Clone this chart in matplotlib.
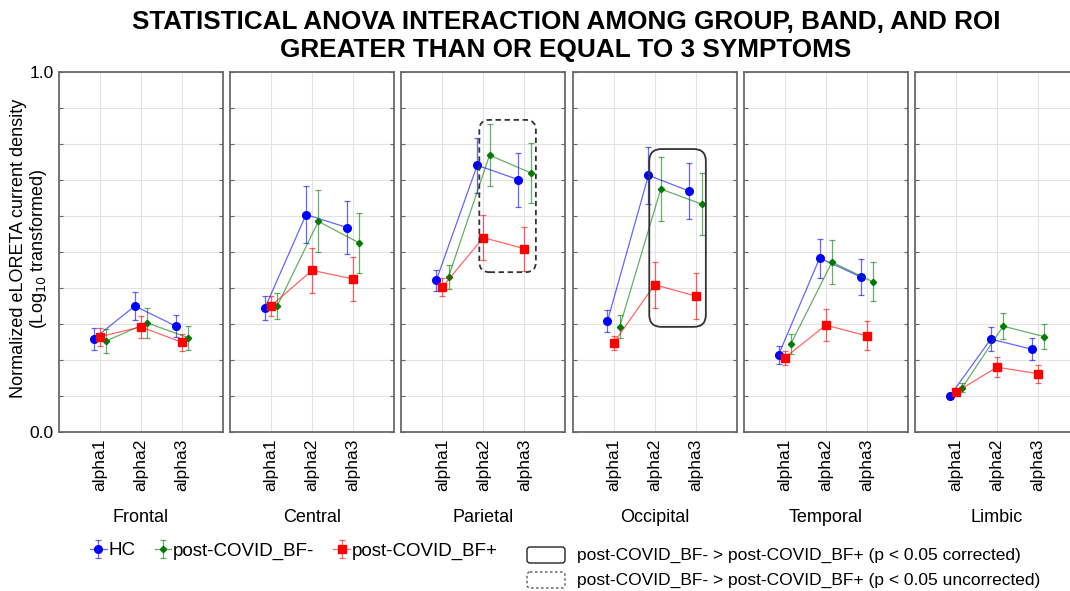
import matplotlib
matplotlib.use('Agg')
import matplotlib.pyplot as plt
from matplotlib.colors import to_rgba
from matplotlib.patches import FancyBboxPatch

plt.rcParams['font.family'] = ['Liberation Sans', 'DejaVu Sans']

regions = ['Frontal', 'Central', 'Parietal', 'Occipital', 'Temporal', 'Limbic']
bands = ['alpha1', 'alpha2', 'alpha3']

# means per region (alpha1, alpha2, alpha3)
hc_mean = [[0.259, 0.350, 0.294], [0.345, 0.604, 0.568], [0.421, 0.741, 0.701],
           [0.308, 0.713, 0.669], [0.215, 0.483, 0.431], [0.100, 0.258, 0.230]]
hc_err = [[0.030, 0.038, 0.030], [0.033, 0.078, 0.073], [0.030, 0.077, 0.075],
          [0.030, 0.080, 0.078], [0.025, 0.054, 0.050], [0.008, 0.033, 0.030]]
bfneg_mean = [[0.253, 0.303, 0.262], [0.351, 0.585, 0.525], [0.431, 0.769, 0.720],
              [0.293, 0.675, 0.633], [0.245, 0.472, 0.417], [0.123, 0.294, 0.265]]
bfneg_err = [[0.033, 0.042, 0.033], [0.036, 0.086, 0.082], [0.033, 0.087, 0.083],
             [0.033, 0.089, 0.087], [0.028, 0.060, 0.054], [0.012, 0.036, 0.034]]
bfpos_mean = [[0.265, 0.292, 0.249], [0.351, 0.449, 0.425], [0.403, 0.540, 0.509],
              [0.247, 0.409, 0.378], [0.206, 0.297, 0.267], [0.111, 0.180, 0.162]]
bfpos_err = [[0.025, 0.030, 0.023], [0.028, 0.063, 0.060], [0.024, 0.063, 0.061],
             [0.020, 0.064, 0.063], [0.020, 0.044, 0.040], [0.008, 0.027, 0.025]]

series = [
    ('HC', hc_mean, hc_err, '#0000ff', 'o', 5.5, -0.15),
    ('post-COVID_BF-', bfneg_mean, bfneg_err, '#007a00', 'D', 3.2, 0.15),
    ('post-COVID_BF+', bfpos_mean, bfpos_err, '#ff0000', 's', 5.5, 0.0),
]

W, H = 1070, 591
fig = plt.figure(figsize=(W / 100, H / 100), dpi=100)

handles = []
for i, region in enumerate(regions):
    left = 59 + i * 171.2
    ax = fig.add_axes([left / W, 159 / H, 164 / W, 360 / H])
    ax.set_xlim(0, 4)
    ax.set_ylim(0, 1)
    ax.set_axisbelow(True)
    ax.grid(True, color='#e3e3e3', lw=0.8)
    for (name, m, e, c, mk, ms, off) in series:
        xs = [k + 1 + off for k in range(3)]
        cont = ax.errorbar(xs, m[i], yerr=e[i], fmt='-' + mk, color=to_rgba(c, 0.6),
                           lw=0.9, mfc=c, mec=c, ms=ms,
                           ecolor=to_rgba(c, 0.6), elinewidth=0.9,
                           capsize=2.2, capthick=0.9)
        if i == 0:
            handles.append(cont)
    ax.set_xticks([1, 2, 3])
    ax.set_xticklabels(bands, rotation=90, fontsize=12.5)
    ax.set_yticks([k / 10 for k in range(11)])
    if i == 0:
        ax.set_yticklabels(['0.0'] + [''] * 9 + ['1.0'], fontsize=12.5)
        ax.set_ylabel('Normalized eLORETA current density\n(Log$_{10}$ transformed)',
                      fontsize=13, linespacing=1.05)
        ax.yaxis.set_label_coords(-0.06, 0.51)
    else:
        ax.set_yticklabels([])
    ax.tick_params(direction='in', length=3, top=True, right=True,
                   color='#666666', pad=4)
    ax.tick_params(axis='x', length=0, pad=5)
    ax.set_xlabel(region, fontsize=13, labelpad=13)
    for sp in ax.spines.values():
        sp.set_color('#6a6a6a')
        sp.set_linewidth(1.3)

    if region == 'Parietal':
        box = FancyBboxPatch((1.90, 0.444), 1.38, 0.423,
                             boxstyle='round,pad=0,rounding_size=0.25',
                             mutation_aspect=0.112, fill=False, ls=(0, (3, 2)),
                             ec='#333333', lw=1.3, zorder=5)
        ax.add_patch(box)
    if region == 'Occipital':
        box = FancyBboxPatch((1.87, 0.292), 1.38, 0.494,
                             boxstyle='round,pad=0,rounding_size=0.3',
                             mutation_aspect=0.112, fill=False, ls='-',
                             ec='#333333', lw=1.3, zorder=5)
        ax.add_patch(box)

fig.suptitle('STATISTICAL ANOVA INTERACTION AMONG GROUP, BAND, AND ROI\n'
             'GREATER THAN OR EQUAL TO 3 SYMPTOMS',
             x=566 / W, y=1 - 10 / H, va='top', fontsize=18.8, fontweight='bold',
             linespacing=1.2)

fig.legend(handles, [s[0] for s in series], loc='center left',
           bbox_to_anchor=(90 / W, 1 - 551 / H), ncol=3, frameon=False,
           fontsize=13.5, handlelength=0.9, handletextpad=0.1, columnspacing=1.0,
           borderpad=0, borderaxespad=0)

# box legend drawn in pixel space
lg = fig.add_axes([0, 0, 1, 1], zorder=-1)
lg.set_xlim(0, W)
lg.set_ylim(H, 0)
lg.axis('off')
lg.add_patch(FancyBboxPatch((527, 547), 38, 16, boxstyle='round,pad=0,rounding_size=3',
                            fill=False, ec='#222222', lw=1.0))
lg.add_patch(FancyBboxPatch((527, 572), 38, 16, boxstyle='round,pad=0,rounding_size=3',
                            fill=False, ec='#444444', lw=0.9, ls=(0, (2, 2))))
lg.text(577, 555, 'post-COVID_BF- > post-COVID_BF+ (p < 0.05 corrected)',
        fontsize=12.5, va='center', ha='left')
lg.text(577, 580, 'post-COVID_BF- > post-COVID_BF+ (p < 0.05 uncorrected)',
        fontsize=12.5, va='center', ha='left')

fig.savefig('out.png', dpi=100)
